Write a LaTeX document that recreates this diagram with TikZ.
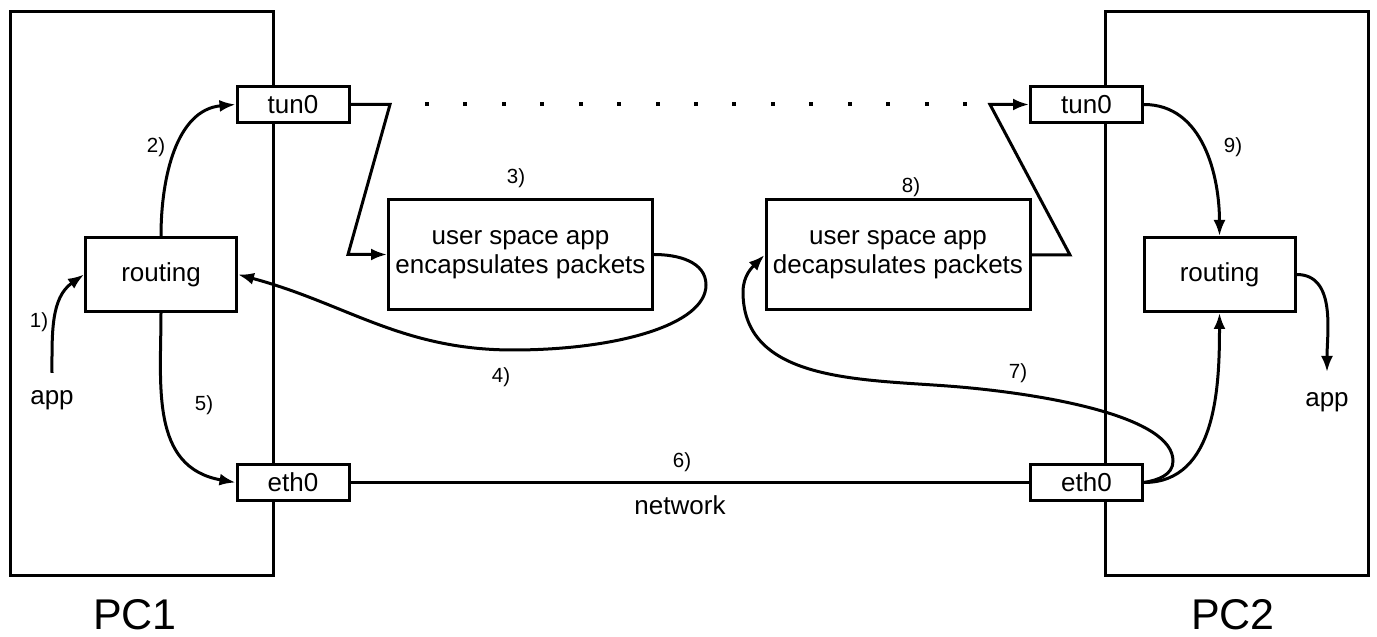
\documentclass[tikz,border=0pt]{standalone}
\usepackage{fontspec}
\setmainfont{Liberation Sans}
\usetikzlibrary{arrows.meta}
\begin{document}
\begin{tikzpicture}[x=1pt,y=1pt, line width=3pt,
  box/.style={draw, fill=white, inner sep=0pt, font=\fontsize{26}{29}\selectfont},
  iface/.style={box, minimum width=112pt, minimum height=36pt},
  rout/.style={box, minimum width=151pt, minimum height=74pt},
  uapp/.style={box, minimum width=264pt, minimum height=110pt, align=center},
  pcbox/.style={draw, inner sep=0pt, minimum width=263pt, minimum height=564pt},
  lbl/.style={font=\fontsize{20.5}{24}\selectfont, inner sep=0pt},
  txt/.style={font=\fontsize{26}{29}\selectfont, inner sep=0pt},
  pc/.style={font=\fontsize{43}{48}\selectfont, inner sep=0pt},
  arr/.style={-{Latex[length=16pt,width=12pt]}},
  dotmark/.style={fill, inner sep=0pt, minimum size=4pt}
]
\useasboundingbox (0,0) rectangle (1377,637);

% computers
\node[pcbox] (pc1) at (142,343.5) {};
\node[pcbox] (pc2) at (1237,343.5) {};
\node[pc] (pc1l) at (135,22) {PC1};
\node[pc] (pc2l) at (1233,22) {PC2};

% interfaces and boxes
\node[iface] (t1) at (293,532.5) {tun0};
\node[iface] (e1) at (293,154.5) {eth0};
\node[iface] (t2) at (1086.5,532.5) {tun0};
\node[iface] (e2) at (1086.5,154.5) {eth0};
\node[rout] (r1) at (161,362.5) {routing};
\node[rout] (r2) at (1219.5,362.5) {routing};
\node[uapp] (enc) at (520.5,382.5) {user space app\\encapsulates packets};
\node[uapp] (dec) at (898,382) {user space app\\decapsulates packets};

% texts
\node[txt] (app1) at (52,237) {app};
\node[txt] (app2) at (1327,235) {app};
\node[txt] (net) at (680,132) {network};
\node[lbl] (l1) at (39,315) {1)};
\node[lbl] (l2) at (156,490) {2)};
\node[lbl] (l3) at (516,459) {3)};
\node[lbl] (l4) at (501,260) {4)};
\node[lbl] (l5) at (204,232) {5)};
\node[lbl] (l6) at (682,175) {6)};
\node[lbl] (l7) at (1018,264) {7)};
\node[lbl] (l8) at (911,450) {8)};
\node[lbl] (l9) at (1233,490) {9)};

% coordinates
\coordinate (a1) at (52,264);
\coordinate (a2) at (1327,265);
\coordinate (c1) at (390,532.5);
\coordinate (c2) at (348,382.5);
\coordinate (c3) at (1070,382);
\coordinate (c4) at (990,532.5);
\coordinate (p4a) at (706,352);
\coordinate (p4b) at (513,287);
\coordinate (p7a) at (1173,176);
\coordinate (p7b) at (960,250);
\coordinate (p7c) at (743,345);

% dotted tunnel
\foreach \i in {0,...,14}
  \node[dotmark] (d\i) at ({427+38.43*\i},532.5) {};

% connectors
\draw[arr] (a1) to[out=90,in=215] (r1.west);
\draw[arr] (r1.north) to[out=90,in=185] (t1.west);
\draw[arr] (t1.east) -- (c1) -- (c2) -- (enc.west);
\draw[arr] (enc.east) to[out=0,in=90] (p4a)
  to[out=-90,in=0,out looseness=0.5,in looseness=1.3] (p4b)
  to[out=180,in=-15] (r1.east);
\draw[arr] (r1.south) to[out=-90,in=170,in looseness=1.2] (e1.west);
\draw (e1.east) -- (e2.west);
\draw[arr] (e2.east) to[out=10,in=-90] (p7a) to[out=90,in=-5,out looseness=0.5] (p7b) to[out=175,in=-90] (p7c) to[out=90,in=-135] (dec.west);
\draw[arr] (dec.east) -- (c3) -- (c4) -- (t2.west);
\draw[arr] (t2.east) to[out=0,in=90] (r2.north);
\draw[arr] (e2.east) to[out=0,in=-90] (r2.south);
\draw[arr] (r2.east) to[out=0,in=90] (a2);
\end{tikzpicture}
\end{document}
